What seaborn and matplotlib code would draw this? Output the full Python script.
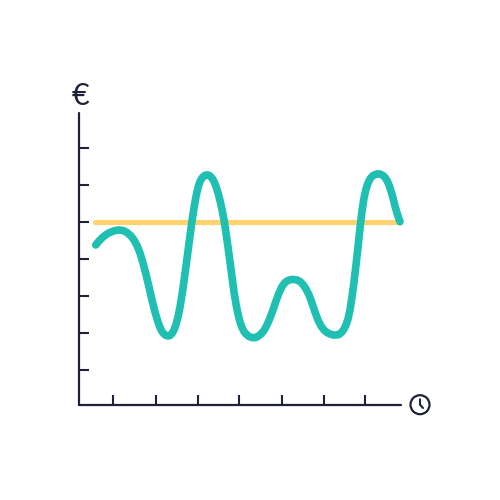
import matplotlib
matplotlib.use("Agg")
import matplotlib.pyplot as plt
from matplotlib.patches import Circle
from matplotlib.lines import Line2D
import pandas as pd
import seaborn as sns

time = [16.7,20,24,28,32,36,40,44,48,52,55,58,61,64,67,70,73,76,79,81,83,85,87,89,91,93,95,97,99,101,103,105,107,109,111,113,115,117,119,121,123,125,127,129,131,133,135,137,139,141,143,145,147,149,151,153,155,157,159,161,163,165,167,170,173,176,179,182,185,188,191,194,197,200,203,206,209,212,215,218,221,224,227,230,233,236,239,242,245,248,251,254,257,260,263,265,267,269,271,273,275,277,279,281,283,285,287,289,291,293,295,298,301,304,306,308,310,312,314,316,318,320,321]
cost = [160,164,168,171,173,174.5,175,174.5,172.5,169,165,159.5,152,142,130.5,118,105,93,83,77.5,73.5,71,69.5,69,69.5,71.5,75,80.5,88,98,110,124,139,154,169,184,197,208.5,217.5,223.5,227,229,230,230,229,227,223.5,218.5,212,204.5,195.5,185,172,158,143,128,113,101,91,83,77.5,73.5,71,68.5,67.5,67.3,68.5,71,74.5,80,87,95,104,112,118.5,122.5,124.5,125.5,125.5,125,123.5,120.5,116,110,102,93,85,79,75,72.5,71,70,70,70.5,73,76,80,86,95,108,123,140,158,177,194,207,216,222,226,228.5,230,231,231,229.5,227.5,224.5,220,214,207,199,192,186,183.3]
budget_time = [16, 318]
budget = [183.5, 183.5]
x_ticks = [34.4, 76.5, 118.5, 160.5, 202.5, 244.5, 286.5]
y_ticks = [35, 72, 109, 146, 183, 220, 257]

INK = "#1d2238"
TEAL = "#1fbfb1"
YELLOW = "#fdd26f"

sns.set_theme(style="white")
fig = plt.figure(figsize=(5, 5), dpi=100, facecolor="white")
ax = fig.add_axes([79/500, 95/500, 322/500, 292/500])

sns.lineplot(data=pd.DataFrame({"t": budget_time, "v": budget}), x="t", y="v",
             ax=ax, color=YELLOW, lw=3.7, estimator=None, sort=False,
             solid_capstyle="round", clip_on=False)
sns.lineplot(data=pd.DataFrame({"t": time, "v": cost}), x="t", y="v",
             ax=ax, color=TEAL, lw=5.5, estimator=None, sort=False,
             solid_capstyle="round", solid_joinstyle="round", clip_on=False)

ax.set_xlim(0, 322)
ax.set_ylim(0, 292)
ax.set_xticks(x_ticks)
ax.set_yticks(y_ticks)
ax.set_xticklabels([])
ax.set_yticklabels([])
ax.set_xlabel("")
ax.set_ylabel("")
ax.tick_params(axis="both", direction="in", length=7, width=1.5, color=INK,
               bottom=True, left=True)
for s in ("top", "right"):
    ax.spines[s].set_visible(False)
for s in ("left", "bottom"):
    ax.spines[s].set_color(INK)
    ax.spines[s].set_linewidth(1.6)
    ax.spines[s].set_capstyle("round")

fig.text(80.5/500, 1 - 105/500, "€", ha="center", va="baseline", fontsize=22,
         color=INK, family="Lato")

# clock icon
fig.add_artist(Circle((420/500, 1 - 404.7/500), 9.5/500, transform=fig.transFigure,
                      fill=False, ec=INK, lw=1.6))
fig.add_artist(Line2D([420/500, 420/500, 423/500],
                      [1 - 399.3/500, 1 - 404.7/500, 1 - 408/500],
                      transform=fig.transFigure, color=INK, lw=1.5,
                      solid_capstyle="round"))

fig.savefig("out.png", dpi=100)
